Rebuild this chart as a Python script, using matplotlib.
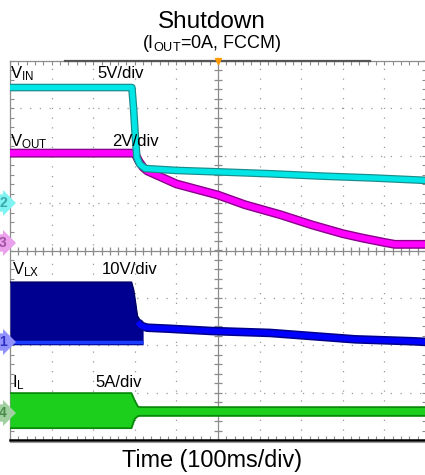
import numpy as np
import matplotlib
matplotlib.use("Agg")
import matplotlib.pyplot as plt

plt.rcParams['font.family'] = ['Liberation Sans', 'DejaVu Sans']
plt.rcParams['mathtext.fontset'] = 'custom'
plt.rcParams['mathtext.rm'] = 'Liberation Sans'
plt.rcParams['mathtext.it'] = 'Liberation Sans:italic'

# ---- scope captures (time in ms, 100 ms/div, trigger at 0) ----
# VIN, 5 V/div
t_vin = [-500, -207, -203, -199, -195, -188, -175, -100, 0, 125, 250, 375, 500]
v_in = [12.2, 12.2, 10.0, 7.2, 4.8, 4.1, 3.65, 3.45, 3.3, 3.1, 2.85, 2.65, 2.4]

# VOUT, 2 V/div
t_vout = [-500, -200, -190, -180, -170, -100, 0, 65, 150, 226, 300, 346, 400, 425, 500]
v_out = [3.85, 3.85, 3.5, 3.25, 3.1, 2.55, 2.08, 1.67, 1.25, 0.82, 0.45, 0.27, 0.08, 0.0, 0.0]

# VLX switching envelope, 10 V/div
t_lx = [-500, -208, -203, -198, -194, -188, -180]
lx_hi = [12.6, 12.6, 11.0, 8.0, 5.5, 4.6, 4.2]
lx_lo = [-0.6, -0.6, -0.6, -0.6, -0.6, -0.6, -0.6]
# VLX after switching stops
t_lx_tail = [-193, -185, -170, -120, -14, 125, 330, 466, 500]
lx_tail = [4.2, 3.4, 3.0, 2.8, 2.3, 1.9, 0.55, 0.15, 0.0]

# inductor current envelope, 5 A/div
t_il = [-500, -208, -200, -192, -185, 500]
il_hi = [2.1, 2.1, 1.3, 0.65, 0.62, 0.62]
il_lo = [-1.6, -1.6, -0.6, -0.32, -0.3, -0.3]

# channel scale (units/div) and ground position (div)
ch = {
    'vin': (5.0, 1.0),
    'vout': (2.0, 0.13),
    'vlx': (10.0, -1.93),
    'il': (5.0, -3.43),
}


def todiv(vals, name):
    s, off = ch[name]
    return np.array(vals) / s + off


W, H = 425, 475
fig = plt.figure(figsize=(W / 100, H / 100), dpi=100)
fig.patch.set_facecolor('white')
ax = fig.add_axes([10 / W, (H - 440) / H, 416 / W, 379 / H])
ax.set_xlim(-500, 500)
ax.set_ylim(-4, 4)

# graticule
dots = dict(color='#9a9a9a', lw=0.9, dashes=(1.0, 6.8), zorder=1)
for x in [-400, -300, -200, -100, 100, 200, 300, 400]:
    ax.axvline(x, **dots)
for y in [-3, -2, -1, 1, 2, 3]:
    ax.axhline(y, **dots)
ax.axvline(0, color='#8c8c8c', lw=0.9, zorder=1)
ax.axhline(0, color='#8c8c8c', lw=0.9, zorder=1)
xm = np.arange(-480, 500, 20)
ym = np.arange(-3.8, 4.0, 0.2)
ax.plot(xm, np.zeros_like(xm), ls='none', marker='|', ms=6, mew=0.9, color='#8c8c8c', zorder=1)
ax.plot(np.zeros_like(ym), ym, ls='none', marker='_', ms=6, mew=0.9, color='#8c8c8c', zorder=1)

ax.set_xticks(np.arange(-500, 501, 100))
ax.set_xticks(xm, minor=True)
ax.set_yticks(np.arange(-4, 5, 1))
ax.set_yticks(ym, minor=True)
ax.tick_params(which='both', direction='in', length=3, width=0.8, color='#8c8c8c',
               top=True, right=True, labelbottom=False, labelleft=False)
for side in ['top', 'left', 'right']:
    ax.spines[side].set_color('#8c8c8c')
    ax.spines[side].set_linewidth(0.9)
ax.spines['bottom'].set_color('black')
ax.spines['bottom'].set_linewidth(1.8)
ax.plot([-500, 500], [-4.045, -4.045], color='#9a9a9a', lw=0.8, clip_on=False, zorder=5)
ax.plot([-368, 365], [4, 4], color='#555555', lw=1.6, clip_on=False, zorder=5)
ax.plot([0], [4], marker='v', ms=5, color='#ff9900', clip_on=False, zorder=6)

# VLX
lx_t = np.array(t_lx)
ax.fill_between(lx_t, todiv(lx_lo, 'vlx'), todiv(lx_hi, 'vlx'), color='#000090', lw=0, zorder=3)
ax.plot(lx_t, todiv(lx_lo, 'vlx') + 0.06, color='#1a3cff', lw=2.5, solid_capstyle='butt', zorder=3)
ax.plot(lx_t, todiv(lx_hi, 'vlx'), color='#00006a', lw=1.2, solid_capstyle='butt', zorder=3)
ax.plot(t_lx_tail, todiv(lx_tail, 'vlx'), color='#00008a', lw=6.2, solid_capstyle='butt', zorder=3)
ax.plot(t_lx_tail, todiv(lx_tail, 'vlx'), color='#0000ff', lw=4.0, solid_capstyle='butt', zorder=3)

# IL
ax.fill_between(t_il, todiv(il_lo, 'il'), todiv(il_hi, 'il'), color='#1ccf1c', lw=0, zorder=3)
ax.plot(t_il, todiv(il_hi, 'il'), color='#0a8a0a', lw=1.3, zorder=3)
ax.plot(t_il, todiv(il_lo, 'il'), color='#0a8a0a', lw=1.3, zorder=3)

# VOUT
ax.plot(t_vout, todiv(v_out, 'vout'), color='#8a008a', lw=6.4, solid_capstyle='butt', zorder=4)
ax.plot(t_vout, todiv(v_out, 'vout'), color='#ff00ff', lw=4.4, solid_capstyle='butt', zorder=4)

# VIN
ax.plot(t_vin, todiv(v_in, 'vin'), color='#1a8c8c', lw=5.5, solid_capstyle='butt', zorder=4)
ax.plot(t_vin, todiv(v_in, 'vin'), color='#00e5e5', lw=3.8, solid_capstyle='butt', zorder=4)


def ftext(x, y, s, **kw):
    fig.text(x / W, 1 - y / H, s, **kw)


ftext(212, 28, 'Shutdown', ha='center', va='baseline', fontsize=17.5)
ftext(212, 48, r'$\mathregular{(I_{OUT}}$=0A, FCCM)', ha='center', va='baseline', fontsize=13)
ftext(212, 467, 'Time (100ms/div)', ha='center', va='baseline', fontsize=16.8)

lab = dict(va='baseline', fontsize=12, zorder=10)
ftext(10, 78, r'$\mathregular{V_{IN}}$', **lab)
ftext(97, 78, '5V/div', **lab)
ftext(10, 146, r'$\mathregular{V_{OUT}}$', **lab)
ftext(112, 146, '2V/div', **lab)
ftext(12, 274, r'$\mathregular{V_{LX}}$', **lab)
ftext(102, 274, '10V/div', **lab)
ftext(12, 387, r'$\mathregular{I_{L}}$', **lab)
ftext(95, 387, '5A/div', **lab)

# channel ground tags
tags = [('2', 203, '#7ff2f2', '#3aa8a8'), ('3', 243, '#eaa0ea', '#a050a0'),
        ('1', 342, '#9090ff', '#3030c0'), ('4', 413, '#a0cfa0', '#4a8a4a')]
for num, yy, fc, tc in tags:
    ftext(3, yy, num, ha='center', va='center', fontsize=10, color=tc, fontweight='bold',
          bbox=dict(boxstyle='rarrow,pad=0.12', fc=fc, ec='none'))

fig.savefig('out.png', dpi=100)
